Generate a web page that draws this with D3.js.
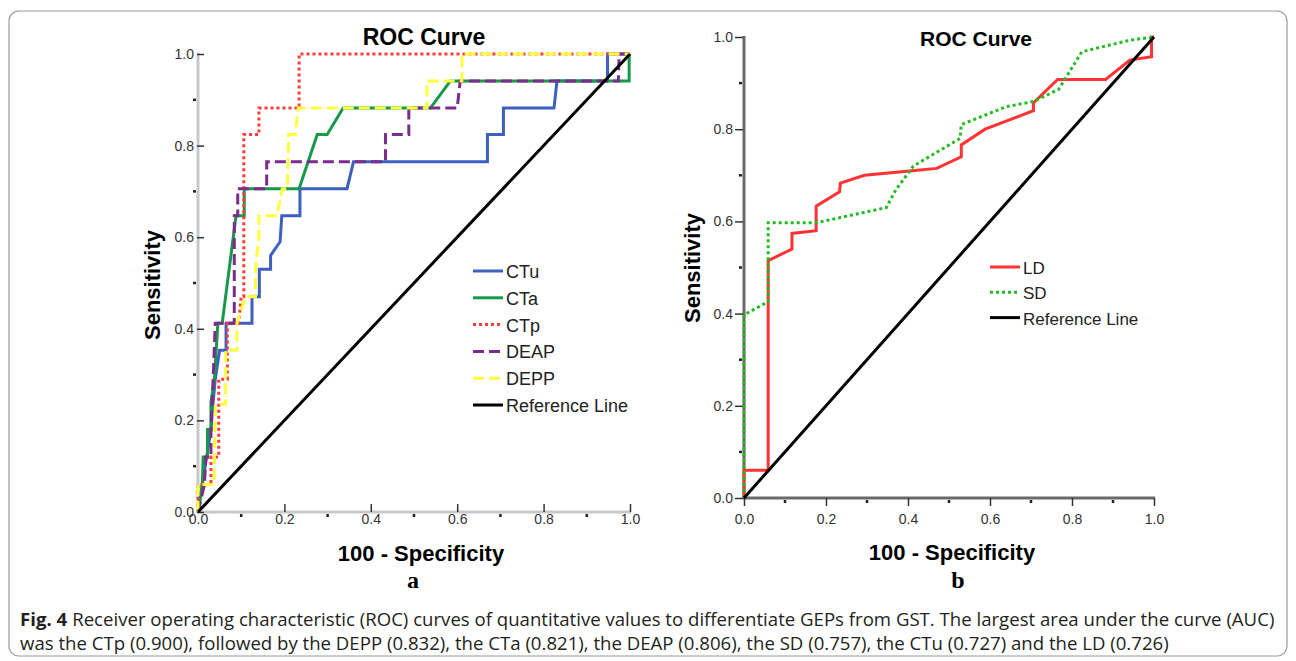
<!DOCTYPE html>
<html>
<head>
<meta charset="utf-8">
<script src="https://cdn.jsdelivr.net/npm/d3@7"></script>
<style>
  body { margin: 0; background: #fff; }
  svg { display: block; }
</style>
</head>
<body>
<script>
// ROC curves (x = 1 - specificity, y = sensitivity)
var ctu = [[0,0],[0.01,0.06],[0.02,0.12],[0.03,0.18],[0.035,0.24],[0.04,0.29],[0.05,0.353],[0.065,0.353],[0.065,0.412],[0.125,0.412],[0.125,0.47],[0.142,0.47],[0.142,0.53],[0.168,0.53],[0.168,0.56],[0.19,0.59],[0.194,0.647],[0.236,0.647],[0.236,0.706],[0.345,0.706],[0.36,0.765],[0.67,0.765],[0.67,0.824],[0.707,0.824],[0.707,0.882],[0.824,0.882],[0.831,0.941],[0.948,0.941],[0.948,1],[1,1]];
var cta = [[0,0],[0.01,0.06],[0.012,0.12],[0.022,0.12],[0.022,0.18],[0.03,0.18],[0.03,0.24],[0.038,0.29],[0.046,0.412],[0.056,0.412],[0.088,0.647],[0.107,0.647],[0.107,0.706],[0.234,0.706],[0.276,0.824],[0.299,0.824],[0.336,0.882],[0.538,0.882],[0.584,0.941],[0.998,0.941],[0.998,1],[1,1]];
var ctp = [[0,0],[0,0.06],[0.03,0.06],[0.03,0.12],[0.048,0.12],[0.048,0.29],[0.068,0.29],[0.068,0.412],[0.094,0.412],[0.1,0.47],[0.106,0.47],[0.106,0.824],[0.141,0.824],[0.141,0.882],[0.234,0.882],[0.234,1],[1,1]];
var deap = [[0,0],[0.015,0.06],[0.018,0.12],[0.03,0.12],[0.03,0.18],[0.035,0.29],[0.04,0.412],[0.084,0.412],[0.084,0.647],[0.092,0.647],[0.092,0.706],[0.159,0.706],[0.159,0.765],[0.434,0.765],[0.434,0.824],[0.488,0.824],[0.488,0.882],[0.6,0.882],[0.607,0.941],[0.973,0.941],[0.975,1],[1,1]];
var depp = [[0,0],[0,0.06],[0.037,0.06],[0.04,0.235],[0.064,0.235],[0.064,0.353],[0.09,0.353],[0.09,0.412],[0.11,0.47],[0.133,0.47],[0.133,0.53],[0.141,0.6],[0.141,0.647],[0.183,0.647],[0.195,0.706],[0.207,0.706],[0.21,0.824],[0.225,0.824],[0.232,0.882],[0.53,0.882],[0.53,0.941],[0.611,0.941],[0.611,1],[1,1]];
var ld = [[0,0],[0,0.06],[0.059,0.06],[0.059,0.515],[0.117,0.54],[0.117,0.574],[0.176,0.58],[0.176,0.633],[0.233,0.664],[0.235,0.683],[0.294,0.7],[0.41,0.71],[0.47,0.715],[0.53,0.74],[0.53,0.766],[0.588,0.8],[0.706,0.84],[0.706,0.857],[0.765,0.908],[0.882,0.908],[0.941,0.95],[0.994,0.957],[0.994,1],[1,1]];
var sd = [[0,0],[0,0.397],[0.059,0.426],[0.059,0.597],[0.176,0.597],[0.347,0.63],[0.37,0.668],[0.413,0.72],[0.527,0.78],[0.53,0.81],[0.64,0.849],[0.705,0.86],[0.767,0.886],[0.824,0.968],[0.941,0.993],[1,1]];
var refLine = [[0,0],[1,1]];

var seriesA = ["CTu", "CTa", "CTp", "DEAP", "DEPP", "Reference Line"];
var seriesB = ["LD", "SD", "Reference Line"];
var tickVals = [0, 0.2, 0.4, 0.6, 0.8, 1.0];
var minorVals = [0.1, 0.3, 0.5, 0.7, 0.9];

var captionBold = "Fig. 4";
var caption1 = "Receiver operating characteristic (ROC) curves of quantitative values to differentiate GEPs from GST. The largest area under the curve (AUC)";
var caption2 = "was the CTp (0.900), followed by the DEPP (0.832), the CTa (0.821), the DEAP (0.806), the SD (0.757), the CTu (0.727) and the LD (0.726)";

var W = 1296, H = 661;
var font = "'Liberation Sans', Arial, sans-serif";

var svg = d3.select("body").append("svg")
    .attr("width", W)
    .attr("height", H);

// frame round the figure
svg.append("rect")
    .attr("x", 9).attr("y", 11)
    .attr("width", 1278).attr("height", 645)
    .attr("rx", 10)
    .attr("fill", "none")
    .attr("stroke", "#9a9a9a")
    .attr("stroke-width", 1.2);

// draws one ROC panel
function panel(opt) {
  var x = d3.scaleLinear().domain([0, 1]).range([opt.x0, opt.x1]);
  var y = d3.scaleLinear().domain([0, 1]).range([opt.y0, opt.y1]);
  var g = svg.append("g");

  var line = d3.line()
      .x(function(d) { return x(d[0]); })
      .y(function(d) { return y(d[1]); });

  // axes
  g.append("line")
      .attr("x1", x(0)).attr("x2", x(0))
      .attr("y1", y(0) + 1).attr("y2", y(1) - 1)
      .attr("stroke", opt.axisColor).attr("stroke-width", 3);
  g.append("line")
      .attr("x1", x(0) - 1).attr("x2", x(1) + 1)
      .attr("y1", y(0)).attr("y2", y(0))
      .attr("stroke", opt.axisColor).attr("stroke-width", 3);

  var yAxis = d3.axisLeft(y).tickValues(tickVals).tickFormat(d3.format(".1f"))
      .tickSize(opt.tickIn ? -7 : 8).tickPadding(opt.tickIn ? 3 : 2);
  var ya = g.append("g")
      .attr("transform", "translate(" + (x(0) - 1) + ",0)")
      .call(yAxis);
  var xAxis = d3.axisBottom(x).tickValues(tickVals).tickFormat(d3.format(".1f"))
      .tickSize(opt.tickIn ? -8 : 8).tickPadding(opt.tickIn ? 2 : 8);
  var xa = g.append("g")
      .attr("transform", "translate(0," + y(0) + ")")
      .call(xAxis);
  [ya, xa].forEach(function(a) {
    a.select(".domain").remove();
    a.selectAll(".tick line").attr("stroke", "#333").attr("stroke-width", 1.5);
    a.selectAll("text").attr("font-family", font).attr("font-size", 14).attr("fill", "#333");
  });

  // minor ticks
  g.selectAll(".my").data(minorVals).enter().append("line")
      .attr("x1", x(0) - 5).attr("x2", x(0) - 2)
      .attr("y1", function(d) { return y(d); })
      .attr("y2", function(d) { return y(d); })
      .attr("stroke", "#222").attr("stroke-width", 2.5);
  g.selectAll(".mx").data(minorVals).enter().append("line")
      .attr("x1", function(d) { return x(d); })
      .attr("x2", function(d) { return x(d); })
      .attr("y1", y(0) + 2).attr("y2", y(0) + 5)
      .attr("stroke", "#222").attr("stroke-width", 2.5);

  // curves
  opt.series.forEach(function(s) {
    g.append("path")
        .datum(s.data)
        .attr("d", line)
        .attr("fill", "none")
        .attr("stroke", s.color)
        .attr("stroke-width", 3)
        .attr("stroke-dasharray", s.dash || null)
        .attr("stroke-linejoin", "miter");
  });

  // titles
  g.append("text")
      .attr("x", opt.titleX).attr("y", opt.titleY)
      .attr("text-anchor", "middle")
      .attr("font-family", font).attr("font-weight", "bold")
      .attr("font-size", opt.titleSize)
      .text("ROC Curve");
  g.append("text")
      .attr("transform", "translate(" + opt.ylabX + "," + opt.ylabY + ") rotate(-90)")
      .attr("text-anchor", "middle")
      .attr("font-family", font).attr("font-weight", "bold")
      .attr("font-size", 22)
      .text("Sensitivity");
  g.append("text")
      .attr("x", opt.xlabX).attr("y", opt.xlabY)
      .attr("text-anchor", "middle")
      .attr("font-family", font).attr("font-weight", "bold")
      .attr("font-size", 22)
      .text("100 - Specificity");
  g.append("text")
      .attr("x", opt.letterX).attr("y", 588)
      .attr("text-anchor", "middle")
      .attr("font-family", "'Liberation Serif', 'Times New Roman', serif").attr("font-weight", "bold")
      .attr("font-size", 24)
      .text(opt.letter);

  // legend
  var leg = g.selectAll(".leg").data(opt.series).enter().append("g")
      .attr("transform", function(d, i) {
        return "translate(" + opt.legX + "," + (opt.legY + i * opt.legStep) + ")";
      });
  leg.append("line")
      .attr("x1", 0).attr("x2", 30)
      .attr("stroke", function(d) { return d.color; })
      .attr("stroke-width", 3)
      .attr("stroke-dasharray", function(d) { return d.dash || null; });
  leg.append("text")
      .attr("x", 33).attr("y", 7)
      .attr("font-family", font).attr("font-size", opt.legSize)
      .attr("fill", "#222")
      .text(function(d) { return d.name; });
}

var colA = ["#3c5fc0", "#17994a", "#ff3b3b", "#7b2c8c", "#ffff3c", "#000"];
var dataA = [ctu, cta, ctp, deap, depp, refLine];
var dashA = [null, null, "3,3", "11,5", "11,5", null];
panel({
  x0: 198, x1: 630, y0: 512, y1: 54,
  axisColor: "#c8c8c8", tickIn: true,
  series: seriesA.map(function(n, i) {
    return {name: n, data: dataA[i], color: colA[i], dash: dashA[i]};
  }),
  titleX: 424, titleY: 45, titleSize: 23,
  ylabX: 160, ylabY: 285,
  xlabX: 421, xlabY: 561,
  letterX: 413, letter: "a",
  legX: 473, legY: 271, legStep: 26.8, legSize: 18
});

var colB = ["#ff3333", "#22bb22", "#000"];
var dataB = [ld, sd, refLine];
var dashB = [null, "3,3", null];
panel({
  x0: 744, x1: 1154, y0: 498, y1: 37,
  axisColor: "#6a6a6a", tickIn: false,
  series: seriesB.map(function(n, i) {
    return {name: n, data: dataB[i], color: colB[i], dash: dashB[i]};
  }),
  titleX: 976, titleY: 46, titleSize: 21,
  ylabX: 700, ylabY: 268,
  xlabX: 952, xlabY: 560,
  letterX: 958, letter: "b",
  legX: 990, legY: 267, legStep: 25.3, legSize: 17
});

// caption: one squeeze factor for every line so they share the same look
var cap = svg.append("g")
    .attr("font-family", "'Open Sans', 'Noto Sans', sans-serif")
    .attr("font-size", 18)
    .attr("fill", "#231f20");
var capBold = cap.append("text").attr("font-weight", "bold").text(captionBold);
var cap1 = cap.append("text").text(caption1);
var cap2 = cap.append("text").text(caption2);

var bw = capBold.node().getComputedTextLength();
var w1 = cap1.node().getComputedTextLength();
var k = (1275 - 20 - 5) / (w1 + bw);
var x1 = 20 + bw * k + 5;
capBold.attr("transform", "translate(20,626) scale(" + k + ",1)");
cap1.attr("transform", "translate(" + x1 + ",626) scale(" + k + ",1)");
cap2.attr("transform", "translate(20,650) scale(" + k + ",1)");
</script>
</body>
</html>
